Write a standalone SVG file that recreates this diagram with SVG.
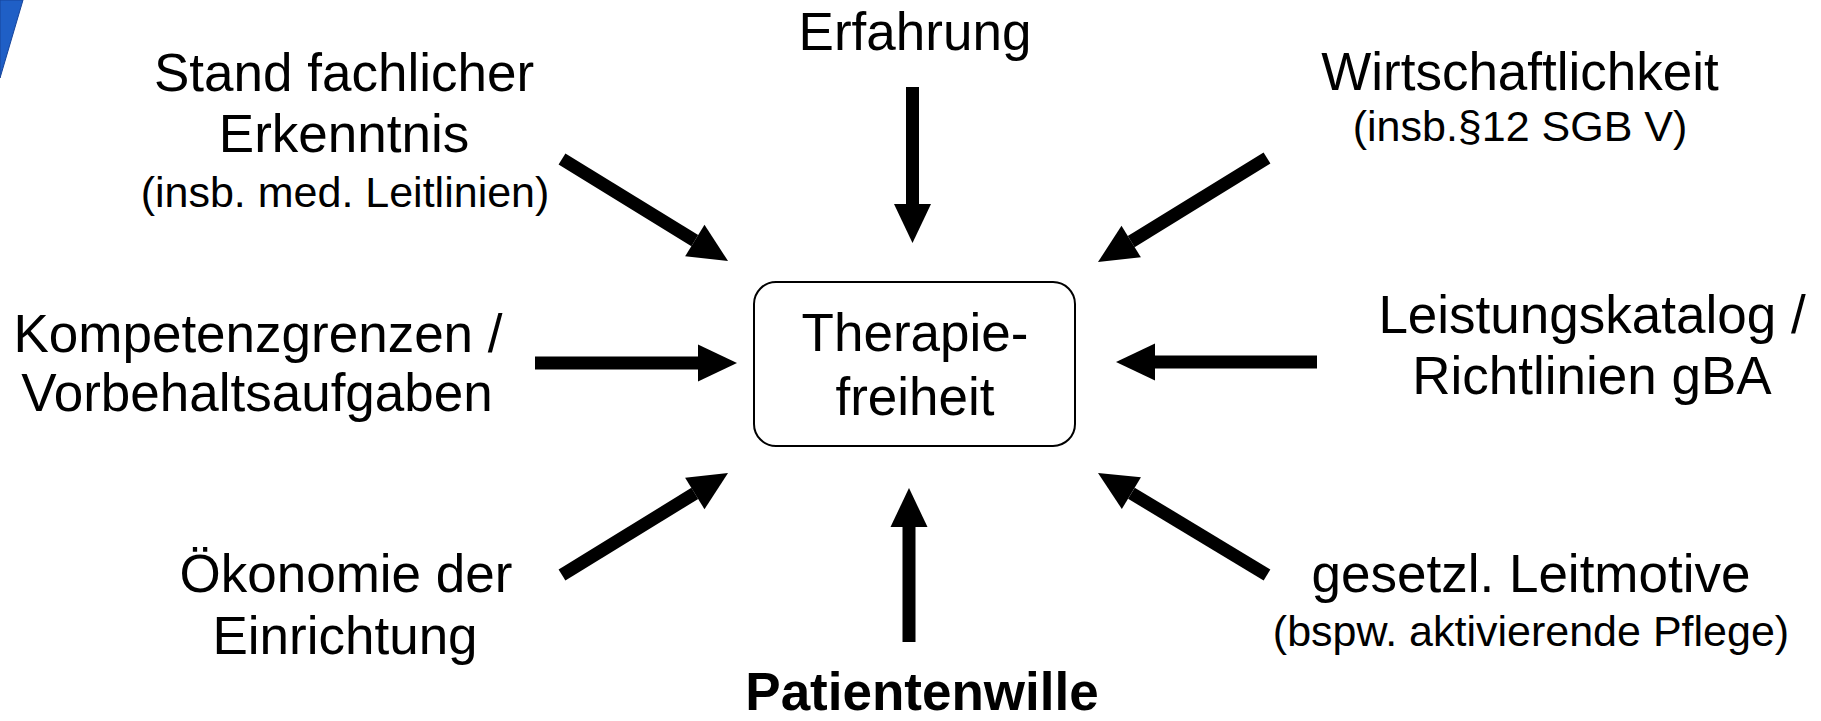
<svg xmlns="http://www.w3.org/2000/svg" width="1821" height="721" viewBox="0 0 1821 721">
<style>
text{font-family:"Liberation Sans",Arial,sans-serif;fill:#000;text-anchor:middle}
.m{font-size:53px}
.s{font-size:43px}
.b{font-size:53px;font-weight:bold}
.a{stroke:#000;stroke-width:13;fill:none;marker-end:url(#h)}
</style>
<defs>
<marker id="h" markerUnits="userSpaceOnUse" markerWidth="40" markerHeight="38" refX="0" refY="18.5" orient="auto" overflow="visible">
<path d="M0,0 L39,18.5 L0,37 z" fill="#000"/>
</marker>
</defs>
<rect width="1821" height="721" fill="#fff"/>
<polygon points="0,0 23,0 0,78" fill="#1f5fc6" stroke="#17449a" stroke-width="1"/>
<g id="connectors">
<line class="a" x1="535" y1="363" x2="698" y2="363"/>
<line class="a" x1="1317" y1="362" x2="1155" y2="362"/>
<line class="a" x1="912.5" y1="87" x2="912.5" y2="204"/>
<line class="a" x1="909" y1="642" x2="909" y2="527"/>
<line class="a" x1="562" y1="159" x2="694.8" y2="240.6"/>
<line class="a" x1="1267" y1="158" x2="1131.2" y2="241.6"/>
<line class="a" x1="562" y1="575" x2="694.8" y2="493.4"/>
<line class="a" x1="1267" y1="575" x2="1131.4" y2="493.2"/>
</g>
<g id="center">
<rect x="754" y="282" width="321" height="164" rx="22" fill="#fff" stroke="#000" stroke-width="2"/>
<text class="m" x="915" y="351">Therapie-</text>
<text class="m" x="915" y="415">freiheit</text>
</g>
<g id="stand">
<text class="m" x="344" y="91">Stand fachlicher</text>
<text class="m" x="344" y="152">Erkenntnis</text>
<text class="s" x="345" y="207">(insb. med. Leitlinien)</text>
</g>
<g id="erfahrung">
<text class="m" x="915" y="50">Erfahrung</text>
</g>
<g id="wirtschaft">
<text class="m" x="1520" y="90">Wirtschaftlichkeit</text>
<text class="s" x="1520" y="141">(insb.§12 SGB V)</text>
</g>
<g id="kompetenz">
<text class="m" x="258" y="352">Kompetenzgrenzen /</text>
<text class="m" x="257" y="411">Vorbehaltsaufgaben</text>
</g>
<g id="leistung">
<text class="m" x="1592" y="333">Leistungskatalog /</text>
<text class="m" x="1592" y="394">Richtlinien gBA</text>
</g>
<g id="oekonomie">
<text class="m" x="346" y="592">Ökonomie der</text>
<text class="m" x="345" y="654">Einrichtung</text>
</g>
<g id="gesetz">
<text class="m" x="1531" y="592">gesetzl. Leitmotive</text>
<text class="s" x="1531" y="646">(bspw. aktivierende Pflege)</text>
</g>
<g id="patient">
<text class="b" x="922" y="710">Patientenwille</text>
</g>
</svg>
